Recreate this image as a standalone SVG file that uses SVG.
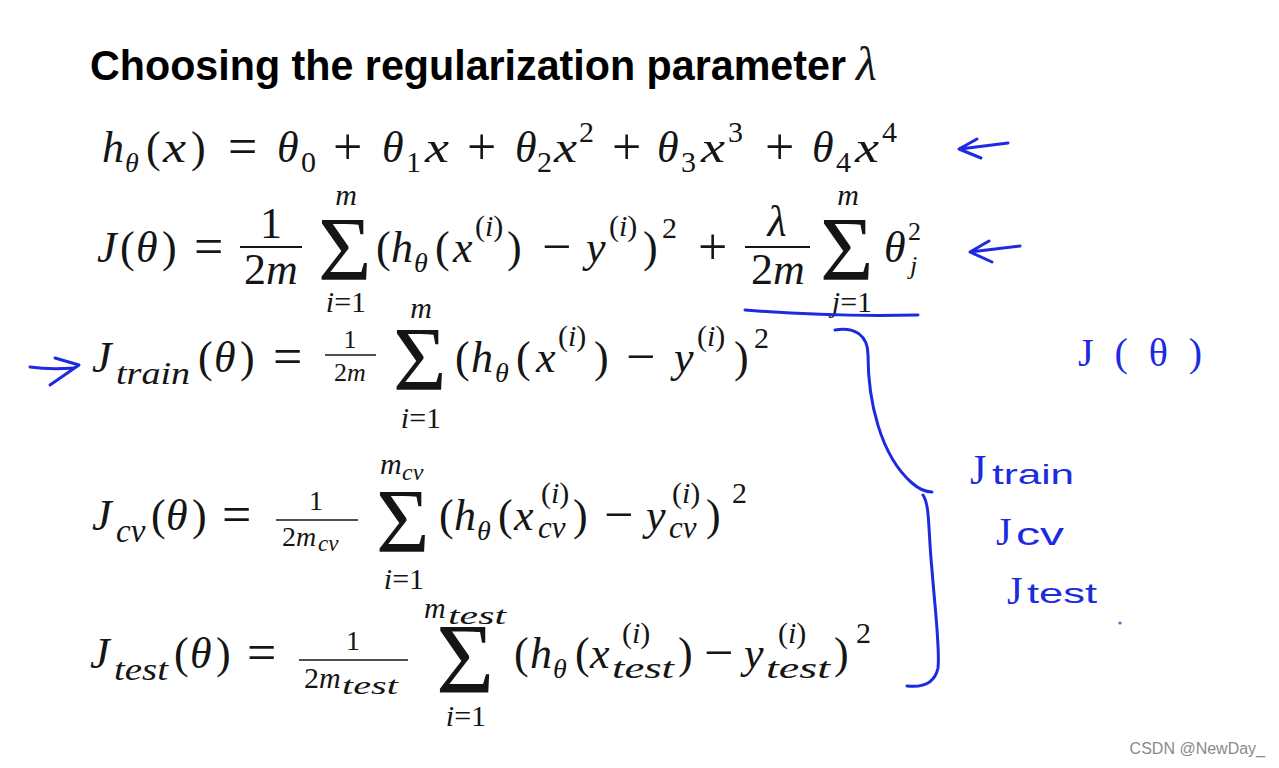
<svg xmlns="http://www.w3.org/2000/svg" width="1279" height="768" viewBox="0 0 1279 768">
<style>
.m{font-family:"Liberation Serif","DejaVu Serif",serif;font-size:44px;fill:#151515}
.i{font-style:italic}
.s{font-size:30px}
.k{font-size:28px}
.t{font-size:26px}
.op{font-size:52px}
.sig{font-size:92px}
.bar{stroke:#151515;stroke-width:2}
.hw{stroke:#1c2be0;stroke-width:3;fill:none;stroke-linecap:round;stroke-linejoin:round}
.hwt{font-family:"Liberation Sans","DejaVu Sans",sans-serif;fill:#1c2be0}
.hwj{font-family:"Liberation Serif","DejaVu Serif",serif;fill:#1c2be0}
</style>
<rect width="1279" height="768" fill="#ffffff"/>

<g id="title">
<text x="90" y="80" font-family="Liberation Sans, Arial, sans-serif" font-weight="bold" font-size="42" fill="#000" textLength="756" lengthAdjust="spacingAndGlyphs">Choosing the regularization parameter</text>
<text x="856" y="80" class="m i" fill="#000" style="font-size:48px">λ</text>
</g>

<g id="eq-h">
<text class="m">
<tspan class="i" x="102" y="162">h</tspan><tspan class="i k" x="125" y="172">θ</tspan>
<tspan x="146" y="162">(</tspan><tspan x="191" y="162">)</tspan>
<tspan class="op" x="228" y="164">=</tspan>
<tspan class="i" x="277" y="162">θ</tspan><tspan class="s" x="301" y="172">0</tspan>
<tspan class="op" x="333" y="164">+</tspan>
<tspan class="i" x="382" y="162">θ</tspan><tspan class="s" x="406" y="172">1</tspan>
<tspan class="op" x="467" y="164">+</tspan>
<tspan class="i" x="515" y="162">θ</tspan><tspan class="s" x="537" y="172">2</tspan><tspan class="s" x="579" y="142">2</tspan>
<tspan class="op" x="612" y="164">+</tspan>
<tspan class="i" x="657" y="162">θ</tspan><tspan class="s" x="681" y="172">3</tspan><tspan class="s" x="728" y="142">3</tspan>
<tspan class="op" x="765" y="164">+</tspan>
<tspan class="i" x="812" y="162">θ</tspan><tspan class="s" x="836" y="172">4</tspan><tspan class="s" x="882" y="142">4</tspan>
</text>
<text class="m i" x="163" y="162" textLength="23" lengthAdjust="spacingAndGlyphs">x</text>
<text class="m i" x="425" y="162" textLength="24" lengthAdjust="spacingAndGlyphs">x</text>
<text class="m i" x="554" y="162" textLength="23" lengthAdjust="spacingAndGlyphs">x</text>
<text class="m i" x="701" y="162" textLength="24" lengthAdjust="spacingAndGlyphs">x</text>
<text class="m i" x="855" y="162" textLength="24" lengthAdjust="spacingAndGlyphs">x</text>
</g>

<g id="eq-J">
<text class="m">
<tspan class="i" x="97" y="262">J</tspan><tspan x="120" y="262">(</tspan><tspan class="i" x="136" y="262">θ</tspan><tspan x="162" y="262">)</tspan>
<tspan class="op" x="194" y="264">=</tspan>
</text>
<text class="m" x="271" y="238" text-anchor="middle">1</text>
<line class="bar" x1="240" y1="247" x2="302" y2="247"/>
<text class="m" x="271" y="284" text-anchor="middle">2<tspan class="i">m</tspan></text>
<text class="m sig" x="318" y="280">Σ</text>
<text class="m i s" x="346" y="205" text-anchor="middle">m</text>
<text class="m s" x="346" y="312" text-anchor="middle"><tspan class="i">i</tspan>=1</text>
<text class="m">
<tspan x="376" y="262">(</tspan><tspan class="i" x="391" y="262">h</tspan><tspan class="i k" x="414" y="272">θ</tspan>
<tspan x="435" y="262">(</tspan><tspan class="i" x="453" y="262">x</tspan><tspan class="s" x="475" y="236">(<tspan class="i">i</tspan>)</tspan><tspan x="507" y="262">)</tspan>
<tspan class="op" x="542" y="264">−</tspan>
<tspan class="i" x="586" y="262">y</tspan><tspan class="s" x="609" y="236">(<tspan class="i">i</tspan>)</tspan><tspan x="643" y="262">)</tspan><tspan class="s" x="662" y="238">2</tspan>
<tspan class="op" x="698" y="264">+</tspan>
</text>
<text class="m i" x="777" y="236" text-anchor="middle">λ</text>
<line class="bar" x1="745" y1="247" x2="810" y2="247"/>
<text class="m" x="778" y="284" text-anchor="middle">2<tspan class="i">m</tspan></text>
<text class="m sig" x="820" y="280">Σ</text>
<text class="m i s" x="848" y="205" text-anchor="middle">m</text>
<text class="m s" x="852" y="312" text-anchor="middle"><tspan class="i">j</tspan>=1</text>
<text class="m"><tspan class="i" x="884" y="262">θ</tspan><tspan class="t" x="908" y="240">2</tspan><tspan class="t i" x="910" y="274">j</tspan></text>
</g>

<g id="eq-train">
<text class="m">
<tspan class="i" x="92" y="372">J</tspan>
<tspan x="198" y="372">(</tspan><tspan class="i" x="214" y="372">θ</tspan><tspan x="240" y="372">)</tspan>
<tspan class="op" x="273" y="374">=</tspan>
</text>
<text class="m i" x="116" y="384" style="font-size:32px" textLength="74" lengthAdjust="spacingAndGlyphs">train</text>
<text class="m t" x="350" y="348" text-anchor="middle">1</text>
<line class="bar" x1="325" y1="355" x2="376" y2="355" style="stroke-width:1.6"/>
<text class="m t" x="350" y="381" text-anchor="middle">2<tspan class="i">m</tspan></text>
<text class="m sig" x="393" y="390">Σ</text>
<text class="m i s" x="421" y="318" text-anchor="middle">m</text>
<text class="m s" x="421" y="428" text-anchor="middle"><tspan class="i">i</tspan>=1</text>
<text class="m">
<tspan x="455" y="372">(</tspan><tspan class="i" x="471" y="372">h</tspan><tspan class="i k" x="495" y="382">θ</tspan>
<tspan x="516" y="372">(</tspan><tspan class="i" x="536" y="372">x</tspan><tspan class="s" x="558" y="346">(<tspan class="i">i</tspan>)</tspan><tspan x="594" y="372">)</tspan>
<tspan class="op" x="626" y="374">−</tspan>
<tspan class="i" x="674" y="372">y</tspan><tspan class="s" x="697" y="346">(<tspan class="i">i</tspan>)</tspan><tspan x="734" y="372">)</tspan><tspan class="s" x="754" y="348">2</tspan>
</text>
</g>

<g id="eq-cv">
<text class="m">
<tspan class="i" x="92" y="530">J</tspan>
<tspan x="151" y="530">(</tspan><tspan class="i" x="166" y="530">θ</tspan><tspan x="192" y="530">)</tspan>
<tspan class="op" x="222" y="532">=</tspan>
</text>
<text class="m i" x="116" y="542" style="font-size:33px">cv</text>
<text class="m k" x="316" y="510" text-anchor="middle">1</text>
<line class="bar" x1="276" y1="520" x2="358" y2="520" style="stroke-width:1.6"/>
<text class="m k" x="282" y="546">2<tspan class="i">m</tspan></text>
<text class="m i" x="318" y="551" style="font-size:23px">cv</text>
<text class="m sig" x="376" y="552">Σ</text>
<text class="m i s" x="380" y="474">m</text>
<text class="m i" x="402" y="480" style="font-size:24px">cv</text>
<text class="m s" x="404" y="589" text-anchor="middle"><tspan class="i">i</tspan>=1</text>
<text class="m">
<tspan x="439" y="530">(</tspan><tspan class="i" x="454" y="530">h</tspan><tspan class="i k" x="477" y="540">θ</tspan>
<tspan x="498" y="530">(</tspan><tspan class="i" x="514" y="530">x</tspan><tspan class="s" x="541" y="503">(<tspan class="i">i</tspan>)</tspan><tspan x="573" y="530">)</tspan>
<tspan class="op" x="604" y="532">−</tspan>
<tspan class="i" x="646" y="530">y</tspan><tspan class="s" x="672" y="503">(<tspan class="i">i</tspan>)</tspan><tspan x="706" y="530">)</tspan><tspan class="s" x="732" y="503">2</tspan>
</text>
<text class="m i" x="538" y="538" style="font-size:31px">cv</text>
<text class="m i" x="669" y="538" style="font-size:31px">cv</text>
</g>

<g id="eq-test">
<text class="m">
<tspan class="i" x="90" y="668">J</tspan>
<tspan x="174" y="668">(</tspan><tspan class="i" x="190" y="668">θ</tspan><tspan x="216" y="668">)</tspan>
<tspan class="op" x="247" y="670">=</tspan>
</text>
<text class="m i" x="114" y="680" style="font-size:32px" textLength="54" lengthAdjust="spacingAndGlyphs">test</text>
<text class="m k" x="353" y="650" text-anchor="middle">1</text>
<line class="bar" x1="299" y1="660" x2="408" y2="660" style="stroke-width:1.6"/>
<text class="m" x="304" y="688" style="font-size:30px">2<tspan class="i">m</tspan></text>
<text class="m i" x="342" y="694" style="font-size:26px" textLength="56" lengthAdjust="spacingAndGlyphs">test</text>
<text class="m sig" x="436" y="692" style="font-size:100px">Σ</text>
<text class="m i s" x="424" y="618">m</text>
<text class="m i" x="448" y="624" style="font-size:26px" textLength="58" lengthAdjust="spacingAndGlyphs">test</text>
<text class="m s" x="466" y="726" text-anchor="middle"><tspan class="i">i</tspan>=1</text>
<text class="m">
<tspan x="514" y="668">(</tspan><tspan class="i" x="530" y="668">h</tspan><tspan class="i k" x="553" y="678">θ</tspan>
<tspan x="575" y="668">(</tspan><tspan class="i" x="590" y="668">x</tspan><tspan class="s" x="622" y="643">(<tspan class="i">i</tspan>)</tspan><tspan x="678" y="668">)</tspan>
<tspan class="op" x="704" y="670">−</tspan>
<tspan class="i" x="744" y="668">y</tspan><tspan class="s" x="778" y="643">(<tspan class="i">i</tspan>)</tspan><tspan x="834" y="668">)</tspan><tspan class="s" x="856" y="643">2</tspan>
</text>
<text class="m i" x="612" y="678" style="font-size:30px" textLength="62" lengthAdjust="spacingAndGlyphs">test</text>
<text class="m i" x="766" y="678" style="font-size:30px" textLength="64" lengthAdjust="spacingAndGlyphs">test</text>
</g>

<g id="annotations">
<path class="hw" d="M1008,143 L960,149 M977,139 L959,149 L981,158"/>
<path class="hw" d="M1020,246 L970,252 M989,241 L970,252 L992,262"/>
<path class="hw" d="M745,310 Q830,317 918,315"/>
<path class="hw" d="M30,367 Q50,370 74,368 M55,358 L79,365 L50,385"/>
<path class="hw" d="M835,330 C855,327 868,335 868,355 C868,400 880,455 912,483 C920,490 928,492 932,492"/>
<path class="hw" d="M923,495 C930,505 928,530 932,570 C936,620 940,650 938,668 C935,682 925,688 907,686"/>
<text class="hwj" x="1078" y="366" font-size="40" textLength="124" lengthAdjust="spacing">J(θ)</text>
<text class="hwj" x="970" y="484" font-size="42">J</text>
<text class="hwt" x="992" y="484" font-size="28" textLength="82" lengthAdjust="spacingAndGlyphs">train</text>
<text class="hwj" x="996" y="545" font-size="40">J</text>
<text class="hwt" x="1016" y="545" font-size="32" textLength="48" lengthAdjust="spacingAndGlyphs">cv</text>
<text class="hwj" x="1007" y="604" font-size="40">J</text>
<text class="hwt" x="1027" y="603" font-size="28" textLength="70" lengthAdjust="spacingAndGlyphs">test</text>
<circle cx="1120" cy="623" r="1.6" fill="#5560d0"/>
</g>

<text x="1265" y="754" text-anchor="end" font-family="Liberation Sans, Arial, sans-serif" font-size="16" fill="#8a8a8a">CSDN @NewDay_</text>
</svg>
